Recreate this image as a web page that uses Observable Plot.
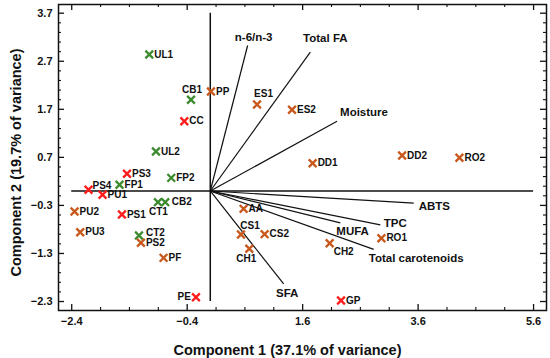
<!DOCTYPE html>
<html>
<head>
<meta charset="utf-8">
<script src="https://cdn.jsdelivr.net/npm/d3@7"></script>
<script src="https://cdn.jsdelivr.net/npm/@observablehq/plot@0.6"></script>
<style>
  html, body { margin: 0; padding: 0; background: white; }
</style>
</head>
<body>
<div id="chart"></div>
<script>
// ---- data ----
const samples = ["UL1","CB1","PP","CC","UL2","ES1","ES2","DD1","DD2","RO2","PS3","FP2","FP1","PS4","PU1","CT1","CB2","PU2","PS1","PU3","CT2","PS2","PF","PE","AA","CS1","CS2","CH1","CH2","RO1","GP"];
const pc1 = [-1.057,-0.334,0.012,-0.450,-0.941,0.810,1.416,1.773,3.323,4.316,-1.443,-0.676,-1.572,-2.109,-1.866,-0.906,-0.780,-2.351,-1.530,-2.253,-1.235,-1.201,-0.809,-0.248,0.577,0.532,0.941,0.676,2.068,2.964,2.265];
const pc2 = [2.840,1.898,2.070,1.452,0.822,1.800,1.690,0.578,0.738,0.691,0.358,0.274,0.129,0.025,-0.079,-0.233,-0.233,-0.427,-0.489,-0.858,-0.926,-1.078,-1.391,-2.211,-0.371,-0.906,-0.899,-1.203,-1.087,-0.983,-2.279];
const groups = ["G","G","O","R","G","O","O","O","O","O","R","G","G","R","R","G","G","O","R","O","G","O","O","R","O","O","O","O","O","O","R"];
const groupNames = ["G","R","O"];
const groupColors = ["#3d8b2f","#ff1c1c","#c8581c"];

const variables = ["n-6/n-3","Total FA","Moisture","ABTS","TPC","MUFA","Total carotenoids","SFA"];
const load1 = [0.647,1.733,2.196,3.524,2.946,2.253,2.831,1.271];
const load2 = [3.028,2.888,1.450,-0.254,-0.706,-0.665,-1.214,-1.935];

const xTicks = [-2.4,-0.4,1.6,3.6,5.6];
const yTicks = [-2.3,-1.3,-0.3,0.7,1.7,2.7,3.7];
const xTitle = "Component 1 (37.1% of variance)";
const yTitle = "Component 2 (19.7% of variance)";

// ---- layout (not data) ----
const W = 550, H = 358, ML = 58, MR = 4, MT = 4, MB = 48;
const xDom = [-2.629, 5.824], yDom = [-2.487, 3.881];
const ux = (xDom[1] - xDom[0]) / (W - ML - MR);   // data units per pixel
const uy = (yDom[1] - yDom[0]) / (H - MT - MB);

const xMinor = d3.range(-2.4, 5.61, 0.5).map(v => +v.toFixed(2));
const yMinor = d3.range(-2.3, 3.81, 0.2).map(v => +v.toFixed(2));
const fmt = d3.format(".1f");

const pts = samples.map((s, i) => ({s, x: pc1[i], y: pc2[i], g: groups[i]}));
const vecs = variables.map((v, i) => ({v, x: load1[i], y: load2[i]}));

const sampleLabelPos = {
  CB1: {dx: 1, dy: -10, a: "middle"},
  ES1: {dx: 6.5, dy: -11, a: "middle"},
  CS1: {dx: 9, dy: -8.5, a: "middle"},
  CH1: {dx: -3, dy: 10, a: "middle"},
  CH2: {dx: 4, dy: 8.5, a: "start"},
  CT1: {dx: 0.5, dy: 10, a: "middle"},
  PE:  {dx: -5, dy: 0, a: "end"},
  CB2: {dx: 6.5, dy: 0, a: "start"},
  PS4: {dx: 4, dy: -4, a: "start"},
  CT2: {dx: 7, dy: -2.5, a: "start"}
};
const vecLabelPos = {
  "n-6/n-3": {dx: 6, dy: -8, a: "middle"},
  "Total FA": {dx: 15, dy: -14, a: "middle"},
  "Moisture": {dx: 3, dy: -9, a: "start"},
  "ABTS": {dx: 5, dy: 3, a: "start"},
  "TPC": {dx: 3.5, dy: -2, a: "start"},
  "MUFA": {dx: -4, dy: 8, a: "start"},
  "Total carotenoids": {dx: -5, dy: 9, a: "start"},
  "SFA": {dx: 3.5, dy: 9, a: "middle"}
};

const font = "'Liberation Sans', Arial, Helvetica, sans-serif";

const sampleLabels = pts.map(p => {
  const o = sampleLabelPos[p.s] || {dx: 5, dy: 0, a: "start"};
  return Plot.text([p], {x: "x", y: "y", text: "s", dx: o.dx, dy: o.dy, textAnchor: o.a,
    fontSize: 10, fontWeight: "bold", fill: "#111"});
});
const vecLabels = vecs.map(p => {
  const o = vecLabelPos[p.v];
  return Plot.text([p], {x: "x", y: "y", text: "v", dx: o.dx, dy: o.dy, textAnchor: o.a,
    fontSize: 11.5, fontWeight: "bold", fill: "#111"});
});

// inward tick marks on all four sides
function xTickMarks(vals, len, sw) {
  return [
    Plot.ruleX(vals, {x: d => d, y1: yDom[0], y2: yDom[0] + len * uy, stroke: "#111", strokeWidth: sw}),
    Plot.ruleX(vals, {x: d => d, y1: yDom[1], y2: yDom[1] - len * uy, stroke: "#111", strokeWidth: sw})
  ];
}
function yTickMarks(vals, len, sw) {
  return [
    Plot.ruleY(vals, {y: d => d, x1: xDom[0], x2: xDom[0] + len * ux, stroke: "#111", strokeWidth: sw}),
    Plot.ruleY(vals, {y: d => d, x1: xDom[1], x2: xDom[1] - len * ux, stroke: "#111", strokeWidth: sw})
  ];
}

const chart = Plot.plot({
  width: W,
  height: H,
  marginLeft: ML,
  marginRight: MR,
  marginTop: MT,
  marginBottom: MB,
  x: {domain: xDom},
  y: {domain: yDom},
  color: {domain: groupNames, range: groupColors},
  style: {fontFamily: font, fontWeight: "bold", fontSize: "11px", background: "white", color: "#111"},
  marks: [
    // crosshair axes through origin
    Plot.ruleX([0], {y1: yTicks[0], y2: yTicks[yTicks.length - 1], stroke: "#111", strokeWidth: 1.5}),
    Plot.ruleY([0], {x1: xTicks[0], x2: xTicks[xTicks.length - 1], stroke: "#111", strokeWidth: 1.5}),
    // loading vectors
    Plot.link(vecs, {x1: 0, y1: 0, x2: "x", y2: "y", stroke: "#111", strokeWidth: 1.2}),
    ...vecLabels,
    // samples
    Plot.dot(pts, {x: "x", y: "y", stroke: "g", symbol: "times", r: 3.6, strokeWidth: 2.3}),
    ...sampleLabels,
    // tick labels
    Plot.axisX({ticks: xTicks, tickSize: 0, tickPadding: 7, tickFormat: fmt, label: null, fontSize: 11, fontWeight: "bold"}),
    Plot.axisY({ticks: yTicks, tickSize: 0, tickPadding: 6, tickFormat: fmt, label: null, fontSize: 11, fontWeight: "bold"}),
    ...xTickMarks(xTicks, 6, 1.3),
    ...xTickMarks(xMinor.filter(v => !xTicks.some(t => Math.abs(t - v) < 1e-6)), 3, 1.1),
    ...yTickMarks(yTicks, 6, 1.3),
    ...yTickMarks(yMinor.filter(v => !yTicks.some(t => Math.abs(t - v) < 1e-6)), 3, 1.1),
    Plot.frame({stroke: "#111", strokeWidth: 1.5}),
    // axis titles
    Plot.text([xTitle], {frameAnchor: "bottom", textAnchor: "middle", lineAnchor: "middle", dx: -15, dy: 40, fontSize: 14.5, fontWeight: "bold", fill: "#111"}),
    Plot.text([yTitle], {frameAnchor: "left", textAnchor: "middle", lineAnchor: "middle", rotate: -90, dx: -42, dy: 5, fontSize: 14.5, fontWeight: "bold", fill: "#111"})
  ]
});
document.getElementById("chart").appendChild(chart);
</script>
</body>
</html>
